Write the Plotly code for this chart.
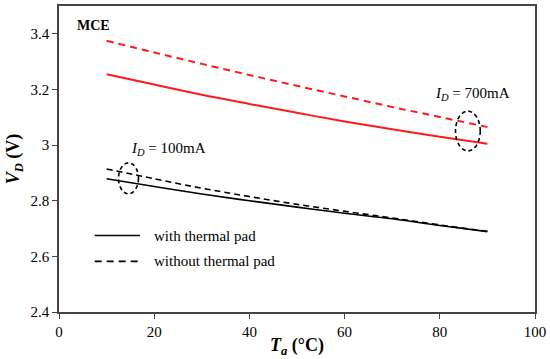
import plotly.graph_objects as go

ta = [10, 20, 30, 40, 50, 60, 70, 80, 90]
red_dashed = [3.375, 3.333, 3.292, 3.252, 3.213, 3.175, 3.137, 3.101, 3.065]
red_solid = [3.255, 3.218, 3.181, 3.148, 3.116, 3.085, 3.057, 3.030, 3.005]
black_solid = [2.879, 2.851, 2.824, 2.800, 2.777, 2.755, 2.735, 2.711, 2.689]
black_dashed = [2.914, 2.879, 2.845, 2.815, 2.787, 2.762, 2.738, 2.713, 2.690]
legend_labels = ["with thermal pad", "without thermal pad"]

FONT = "Liberation Serif, Times New Roman, serif"
RED = "#ff1a1a"
DASH = "7px,5px"

fig = go.Figure()
fig.add_trace(go.Scatter(x=ta, y=red_dashed, mode="lines", line=dict(color=RED, width=2, dash=DASH),
                         line_shape="spline", showlegend=False))
fig.add_trace(go.Scatter(x=ta, y=red_solid, mode="lines", line=dict(color=RED, width=2),
                         line_shape="spline", showlegend=False))
fig.add_trace(go.Scatter(x=ta, y=black_solid, mode="lines", line=dict(color="black", width=1.6),
                         line_shape="spline", showlegend=False))
fig.add_trace(go.Scatter(x=ta, y=black_dashed, mode="lines", line=dict(color="black", width=1.6, dash="6px,4px"),
                         line_shape="spline", showlegend=False))

# manual legend
for ly, dash, label in [(2.675, "solid", legend_labels[0]), (2.582, DASH, legend_labels[1])]:
    fig.add_shape(type="line", xref="x", yref="y", x0=7.5, x1=17.0, y0=ly, y1=ly,
                  line=dict(color="black", width=1.6, dash=dash))
    fig.add_annotation(x=19.6, y=ly, xref="x", yref="y", text=label, showarrow=False,
                       xanchor="left", yanchor="middle", font=dict(family=FONT, size=15, color="black"))

# dashed ellipses
fig.add_shape(type="circle", xref="x", yref="y", x0=12.5, x1=16.7, y0=2.825, y1=2.936,
              line=dict(color="black", width=1.6, dash="4px,3px"))
fig.add_shape(type="circle", xref="x", yref="y", x0=83.3, x1=88.5, y0=2.979, y1=3.122,
              line=dict(color="black", width=1.6, dash="4px,3px"))

fig.add_annotation(x=3.3, y=3.43, xref="x", yref="y", text="<b>MCE</b>", showarrow=False,
                   xanchor="left", yanchor="middle", font=dict(family=FONT, size=14, color="black"))
fig.add_annotation(x=14.6, y=2.985, xref="x", yref="y", text="<i>I<sub>D</sub></i> = 100mA", showarrow=False,
                   xanchor="left", yanchor="middle", font=dict(family=FONT, size=15, color="black"))
fig.add_annotation(x=78.6, y=3.183, xref="x", yref="y", text="<i>I<sub>D</sub></i> = 700mA", showarrow=False,
                   xanchor="left", yanchor="middle", font=dict(family=FONT, size=15, color="black"))

axis_common = dict(showline=True, linecolor="#444444", linewidth=1.5, mirror=True, showgrid=False,
                   zeroline=False, ticks="outside", ticklen=5, tickcolor="#444444",
                   tickfont=dict(family=FONT, size=15, color="black"))

fig.update_xaxes(range=[0, 100], tickvals=[0, 20, 40, 60, 80, 100],
                 title=dict(text="<b><i>T<sub>a</sub></i> (°C)</b>", font=dict(family=FONT, size=18, color="black"),
                            standoff=0), **axis_common)
fig.update_yaxes(range=[2.4, 3.5], tickvals=[2.4, 2.6, 2.8, 3.0, 3.2, 3.4],
                 ticktext=["2.4", "2.6", "2.8", "3", "3.2", "3.4"],
                 title=dict(text="<b><i>V<sub>D</sub></i> (V)</b>", font=dict(family=FONT, size=18, color="black"),
                            standoff=6), **axis_common)

fig.update_layout(width=550, height=359, margin=dict(l=59, r=13, t=4, b=47),
                  plot_bgcolor="white", paper_bgcolor="white", showlegend=False)

fig.write_html("out.html", config={"displayModeBar": False},
               post_script="document.body.style.margin='0';document.body.style.padding='0';")
